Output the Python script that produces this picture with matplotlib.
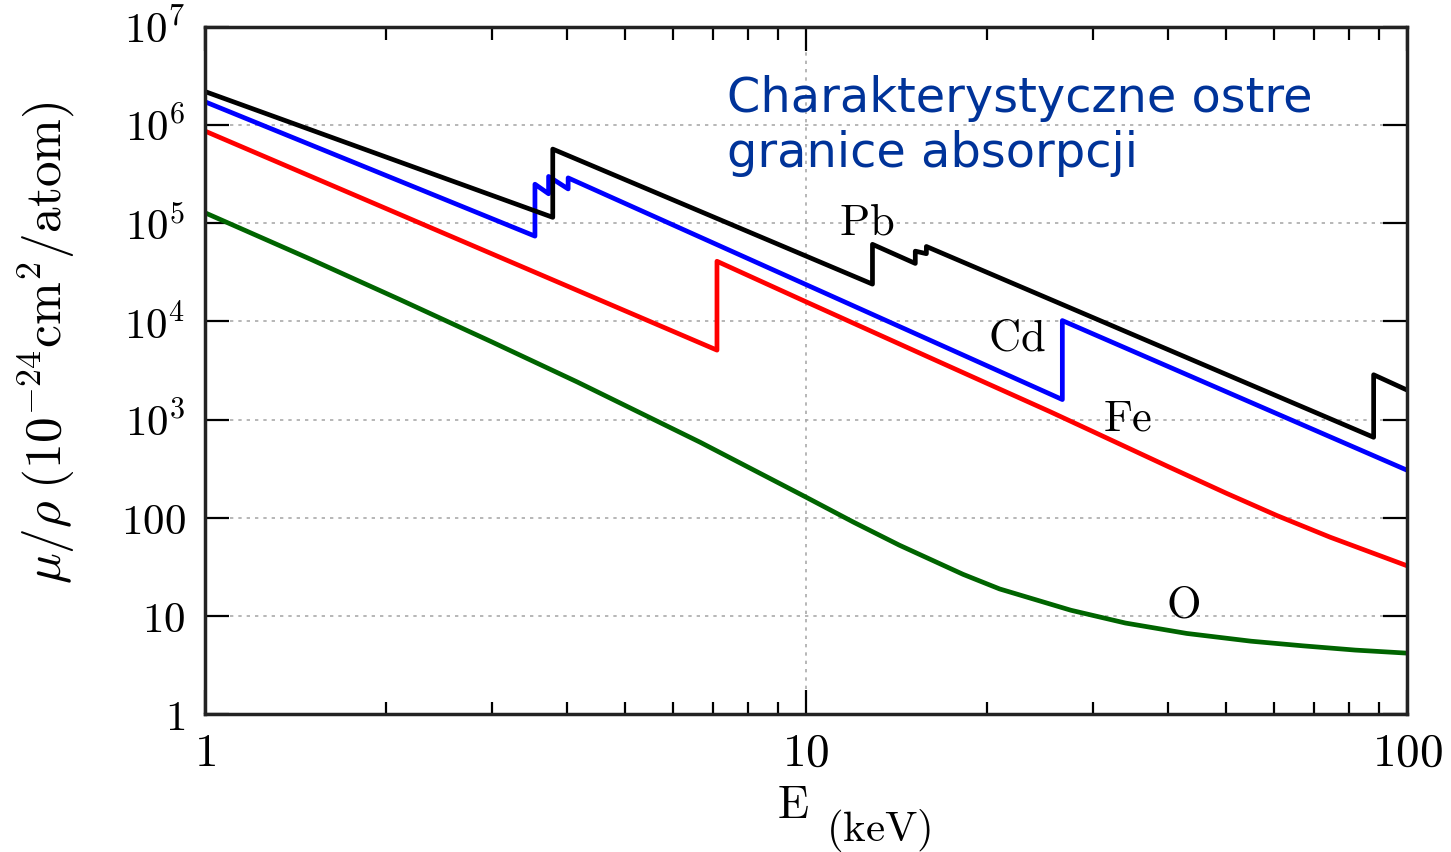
import matplotlib
matplotlib.use("Agg")
import matplotlib.pyplot as plt
from matplotlib.ticker import FixedLocator, FixedFormatter, LogLocator, NullFormatter

plt.rcParams["mathtext.fontset"] = "cm"

# energies in keV, mass attenuation in 1e-24 cm^2/atom (edges = repeated energy)
pb_E = [1.0, 3.79, 3.79, 12.9, 12.9, 15.2, 15.2, 15.86, 15.86, 88.0, 88.0, 100]
pb_mu = [2.2e6, 1.15e5, 5.7e5, 2.4e4, 6.1e4, 3.9e4, 5.2e4, 4.9e4, 5.8e4, 6.6e2, 2.86e3, 2.0e3]

cd_E = [1.0, 3.54, 3.54, 3.73, 3.73, 4.02, 4.02, 26.7, 26.7, 100]
cd_mu = [1.73e6, 7.4e4, 2.5e5, 2.0e5, 3.0e5, 2.24e5, 2.9e5, 1.6e3, 1.02e4, 3.05e2]

fe_E = [1.0, 7.11, 7.11, 10, 15, 20, 25.5, 30, 40, 50, 60.8, 74.5, 100]
fe_mu = [8.7e5, 5.1e3, 4.1e4, 1.585e4, 5.17e3, 2.34e3, 1.2e3, 756, 333, 178, 105, 63.3, 32.4]

o_E = [1.0, 1.5, 2.11, 3.0, 4.16, 6.66, 10.0, 12.0, 14.3, 18.25, 21.0, 27.6,
       34, 43, 55, 67.1, 82, 100]
o_mu = [1.28e5, 4.29e4, 1.67e4, 6.19e3, 2.42e3, 589, 162, 90.0, 52.5, 26.5, 18.8, 11.4,
        8.45, 6.62, 5.52, 4.95, 4.48, 4.17]

xticks = [1, 10, 100]
xtick_labels = ["$1$", "$10$", "$100$"]
yticks = [1, 10, 100, 1e3, 1e4, 1e5, 1e6, 1e7]
ytick_labels = ["$1$", "$10$", "$100$", "$10^3$", "$10^4$", "$10^5$", "$10^6$", "$10^7$"]

W, H = 1451, 852
fig = plt.figure(figsize=(W / 100, H / 100), dpi=100)
ax = fig.add_axes([205 / W, (H - 714) / H, (1407 - 205) / W, (714 - 27) / H])

lw = 3.4
ax.plot(o_E, o_mu, color="#006400", lw=lw)
ax.plot(fe_E, fe_mu, color="#ff0000", lw=lw)
ax.plot(cd_E, cd_mu, color="#0000ff", lw=lw)
ax.plot(pb_E, pb_mu, color="black", lw=lw)

ax.set_xscale("log")
ax.set_yscale("log")
ax.set_xlim(1, 100)
ax.set_ylim(1, 1e7)

ax.xaxis.set_major_locator(FixedLocator(xticks))
ax.xaxis.set_major_formatter(FixedFormatter(xtick_labels))
ax.xaxis.set_minor_locator(LogLocator(base=10, subs=range(2, 10)))
ax.xaxis.set_minor_formatter(NullFormatter())
ax.yaxis.set_major_locator(FixedLocator(yticks))
ax.yaxis.set_major_formatter(FixedFormatter(ytick_labels))
ax.yaxis.set_minor_locator(LogLocator(base=10, subs=[2, 5, 8]))
ax.yaxis.set_minor_formatter(NullFormatter())

ax.tick_params(which="both", direction="in", top=True, right=True, color="black")
ax.tick_params(which="major", length=17, width=1.6)
ax.tick_params(which="minor", length=9, width=1.6)
ax.tick_params(axis="x", labelsize=34, pad=12)
ax.tick_params(axis="y", labelsize=31, pad=14)

for s in ax.spines.values():
    s.set_linewidth(2.5)
    s.set_color("#222222")

ax.grid(True, which="major", color="#aaaaaa", linestyle=(0, (2, 3)), lw=1.2)

ax.set_ylabel(r"$\mu/\rho\;(10^{-24}\mathrm{cm}^2/\mathrm{atom})$", fontsize=37, va="center")
ax.yaxis.set_label_coords(-0.133, 0.541)

# x label: big "E" with a lowered "(keV)"
fig.text(793 / W, 1 - 818 / H, r"$\mathrm{E}$", fontsize=33, ha="center", va="baseline")
fig.text(826 / W, 1 - 841 / H, r"$(\mathrm{keV})$", fontsize=31, ha="left", va="baseline")

for name, x, y in [("Pb", 12.6, 1.04e5), ("Cd", 22.4, 6.8e3), ("Fe", 34.3, 1.04e3), ("O", 42.4, 12.9)]:
    ax.text(x, y, r"$\mathrm{%s}$" % name, fontsize=32, ha="center", va="center")

title_color = "#003399"
fig.text(727 / W, 1 - 112 / H, "Charakterystyczne ostre", color=title_color,
         fontsize=34.5, family="DejaVu Sans", ha="left", va="baseline")
fig.text(727 / W, 1 - 167 / H, "granice absorpcji", color=title_color,
         fontsize=34.5, family="DejaVu Sans", ha="left", va="baseline")

fig.savefig("out.png", dpi=100, facecolor="white")
